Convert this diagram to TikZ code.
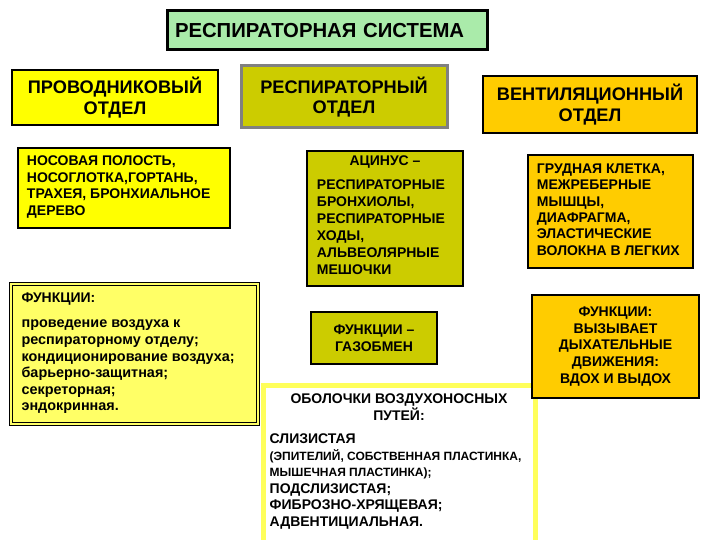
\documentclass[tikz,border=0pt]{standalone}
\usepackage{fontspec}
\setmainfont{Liberation Sans}
\usepackage{xcolor}
\usepackage{tikz}
\usetikzlibrary{positioning}

\definecolor{titlegreen}{RGB}{170,235,170}
\definecolor{condyellow}{RGB}{255,255,0}
\definecolor{respolive}{RGB}{204,204,0}
\definecolor{ventorange}{RGB}{255,204,0}
\definecolor{funcyellow}{RGB}{255,255,102}
\definecolor{shellyellow}{RGB}{255,255,90}

\tikzset{
  box/.style={draw=black, line width=2.5pt, inner sep=0pt},
  head/.style={font=\fontsize{18.2}{20.5}\selectfont\bfseries, align=center},
  small/.style={font=\fontsize{14}{16.7}\selectfont\bfseries, align=center},
  body/.style={font=\fontsize{14}{16.6}\selectfont\bfseries, align=left, inner sep=0pt},
}

\begin{document}
\begin{tikzpicture}[x=1pt, y=-1pt]
  \useasboundingbox (0,0) rectangle (720,540);
  \clip (0,0) rectangle (720,540);

  % Title
  \node[box, line width=3pt, fill=titlegreen, minimum width=320, minimum height=39,
    text width=304pt, align=left, font=\fontsize{20.3}{22}\selectfont\bfseries]
    (system) at (327,30.5) {РЕСПИРАТОРНАЯ СИСТЕМА};

  % Departments
  \node[box, fill=condyellow, minimum width=206, minimum height=55, head]
    (conduct) at (115,97.5) {ПРОВОДНИКОВЫЙ\\ОТДЕЛ};
  \node[box, draw=gray, line width=3pt, fill=respolive, minimum width=206, minimum height=62, head]
    (respir) at (344,97) {РЕСПИРАТОРНЫЙ\\ОТДЕЛ};
  \node[box, fill=ventorange, minimum width=214, minimum height=57, head]
    (ventil) at (590,104.5) {ВЕНТИЛЯЦИОННЫЙ\\ОТДЕЛ};

  % Conducting part
  \node[box, fill=condyellow, minimum width=212, minimum height=80] (nasal) at (124,188) {};
  \node[body, below right=9pt and 10pt of nasal.north west] (nasaltext)
    {НОСОВАЯ ПОЛОСТЬ,\\НОСОГЛОТКА,ГОРТАНЬ,\\ТРАХЕЯ, БРОНХИАЛЬНОЕ\\ДЕРЕВО};

  \node[box, double=funcyellow, line width=1.2pt, double distance=1.2pt, fill=funcyellow,
    minimum width=247, minimum height=140] (condfunc) at (134.5,354) {};
  \node[body, font=\fontsize{14.4}{16.6}\selectfont\bfseries, below right=9pt and 11pt of condfunc.north west]
    (condfunctext) {{\fontsize{14}{16.6}\selectfont ФУНКЦИИ:}\\[9pt]
    проведение воздуха к\\респираторному отделу;\\кондиционирование воздуха;\\
    барьерно-защитная;\\секреторная;\\эндокринная.};

  % Respiratory part
  \node[box, fill=respolive, minimum width=156, minimum height=135] (acinus) at (385,218.5) {};
  \node[small, inner sep=0pt, below=6pt of acinus.north] (acinushead) {АЦИНУС –};
  \node[body, font=\fontsize{14}{17}\selectfont\bfseries, below right=30pt and 11pt of acinus.north west]
    (acinustext) {РЕСПИРАТОРНЫЕ\\БРОНХИОЛЫ,\\РЕСПИРАТОРНЫЕ\\ХОДЫ,\\АЛЬВЕОЛЯРНЫЕ\\МЕШОЧКИ};

  \node[box, fill=respolive, minimum width=126, minimum height=52, small, font=\fontsize{14}{17}\selectfont\bfseries]
    (gasfunc) at (374,338) {ФУНКЦИИ –\\ГАЗОБМЕН};

  % Airway walls
  \node[box, draw=shellyellow, line width=5pt, fill=white, minimum width=272, minimum height=163]
    (shells) at (399,466.5) {};
  \node[small, inner sep=0pt, below=11pt of shells.north] (shellshead)
    {ОБОЛОЧКИ ВОЗДУХОНОСНЫХ\\ПУТЕЙ:};
  \node[body, below right=51pt and 9pt of shells.north west] (shellstext)
    {СЛИЗИСТАЯ\\{\fontsize{12}{16.6}\selectfont (ЭПИТЕЛИЙ, СОБСТВЕННАЯ ПЛАСТИНКА,}\\
    {\fontsize{12}{16.6}\selectfont МЫШЕЧНАЯ ПЛАСТИНКА);}\\ПОДСЛИЗИСТАЯ;\\ФИБРОЗНО-ХРЯЩЕВАЯ;\\АДВЕНТИЦИАЛЬНАЯ.};

  % Ventilation part
  \node[box, fill=ventorange, minimum width=165, minimum height=113] (chest) at (610.5,211.5) {};
  \node[body, font=\fontsize{14}{16.3}\selectfont\bfseries, below right=10pt and 10pt of chest.north west]
    (chesttext) {ГРУДНАЯ КЛЕТКА,\\МЕЖРЕБЕРНЫЕ\\МЫШЦЫ,\\ДИАФРАГМА,\\ЭЛАСТИЧЕСКИЕ\\ВОЛОКНА В ЛЕГКИХ};

  \node[box, fill=ventorange, minimum width=167, minimum height=103, small]
    (ventfunc) at (615.5,346.5) {ФУНКЦИИ:\\ВЫЗЫВАЕТ\\ДЫХАТЕЛЬНЫЕ\\ДВИЖЕНИЯ:\\ВДОХ И ВЫДОХ};
\end{tikzpicture}
\end{document}
